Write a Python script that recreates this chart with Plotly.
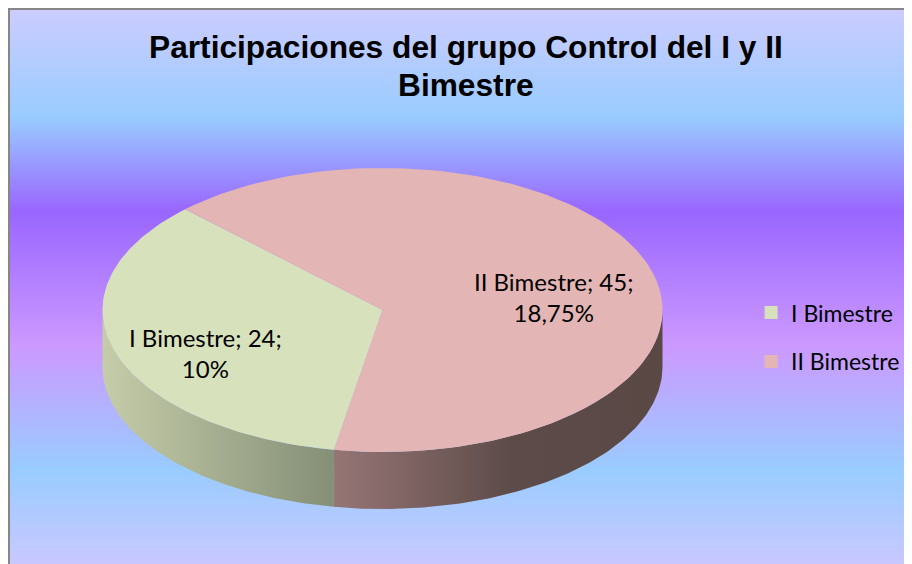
import numpy as np
import plotly.graph_objects as go

# ── Data ─────────────────────────────────────────────────────────────────────
categories = ["I Bimestre", "II Bimestre"]
values     = [24, 45]
pct_labels = ["10%", "18,75%"]

top_colors  = ["#d7e2bd", "#e3b6b5"]
side_scales = [
    [[0, "#c4cca8"], [1, "#858f77"]],
    [[0, "#967575"], [0.55, "#5c4b48"], [1, "#5a4845"]],
]

# the page has an 8px body margin, so the axes are offset to page pixels
OFF = 8
W, H = 912, 564
CX, CY, RX, RY, DEPTH = 382.5, 310, 280, 142, 57
START = 260          # math angle where the first slice starts (runs clockwise)
FONT_LBL = "Lato"

# label anchors (page pixels) for each slice
label_pos = [(205, 353), (553, 297)]


def arc(a0, a1, dy=0, n=120):
    a = np.radians(np.linspace(a0, a1, n))
    return CX + RX * np.cos(a), CY - RY * np.sin(a) + dy


fig = go.Figure()

# ── Background gradient ──────────────────────────────────────────────────────
n_rows = 200
fig.add_trace(go.Heatmap(
    x=[OFF, W],
    y=np.linspace(OFF, H, n_rows + 1),
    z=[[i / (n_rows - 1)] for i in range(n_rows)],
    colorscale=[[0, "#ccccff"], [0.194, "#99ccff"], [0.364, "#9966ff"],
                [0.607, "#cc99ff"], [0.831, "#99ccff"], [1, "#c8c8ff"]],
    showscale=False, hoverinfo="skip", zsmooth="best",
))

# ── Slice angles ─────────────────────────────────────────────────────────────
total = sum(values)
spans = [v / total * 360 for v in values]
bounds = []
a = START
for s in spans:
    bounds.append((a - s, a))
    a -= s

# side walls (only the front half is visible)
for (lo_a, hi_a), cs in zip(bounds, side_scales):
    for k in (-1, 0, 1):
        lo = max(lo_a, 180 + 360 * k)
        hi = min(hi_a, 360 + 360 * k)
        if lo < hi:
            tx, ty = arc(lo, hi)
            bx, by = arc(hi, lo, DEPTH)
            fig.add_trace(go.Scatter(
                x=np.concatenate([tx, bx, tx[:1]]),
                y=np.concatenate([ty, by, ty[:1]]),
                mode="lines", fill="toself", line=dict(width=0),
                fillgradient=dict(type="horizontal", colorscale=cs),
                hoverinfo="skip", showlegend=False,
            ))

# top faces
for (lo_a, hi_a), col in zip(bounds, top_colors):
    ax_, ay_ = arc(hi_a, lo_a)
    fig.add_trace(go.Scatter(
        x=np.concatenate([[CX], ax_, [CX]]),
        y=np.concatenate([[CY], ay_, [CY]]),
        mode="lines", fill="toself", fillcolor=col, line=dict(width=0),
        hoverinfo="skip", showlegend=False,
    ))

# legend entries
for i, (cat, col) in enumerate(zip(categories, top_colors)):
    fig.add_trace(go.Scatter(
        x=[None], y=[None], mode="markers", name=cat,
        marker=dict(symbol="square", size=13, color=col),
        legendgroup=f"g{i}",
    ))

# data labels
for (lx, ly), cat, v, p in zip(label_pos, categories, values, pct_labels):
    fig.add_annotation(
        x=lx, y=ly, text=f"{cat}; {v};<br>{p}", showarrow=False,
        font=dict(family=FONT_LBL, size=24, color="#000000"),
        align="center",
    )

# title
fig.add_annotation(x=465.5, y=47, text="<b>Participaciones del grupo Control del I y II</b>",
                   showarrow=False, font=dict(family="Liberation Sans", size=31.7, color="#000000"))
fig.add_annotation(x=465.5, y=85, text="<b>Bimestre</b>",
                   showarrow=False, font=dict(family="Liberation Sans", size=31.7, color="#000000"))

# frame
fig.add_shape(type="rect", x0=OFF + 1, y0=OFF + 1, x1=W + 5, y1=H + 5,
              line=dict(color="#868686", width=2), layer="above")

fig.update_layout(
    width=W - OFF, height=H - OFF, autosize=False,
    margin=dict(l=0, r=0, t=0, b=0),
    paper_bgcolor="#ffffff", plot_bgcolor="#ffffff",
    xaxis=dict(range=[OFF, W], visible=False, fixedrange=True),
    yaxis=dict(range=[H, OFF], visible=False, fixedrange=True),
    legend=dict(
        x=0.822, y=0.408, xanchor="left", yanchor="middle",
        font=dict(family=FONT_LBL, size=23, color="#000000"),
        bgcolor="rgba(0,0,0,0)", tracegroupgap=16,
    ),
    showlegend=True,
)

fig.write_html("out.html")
